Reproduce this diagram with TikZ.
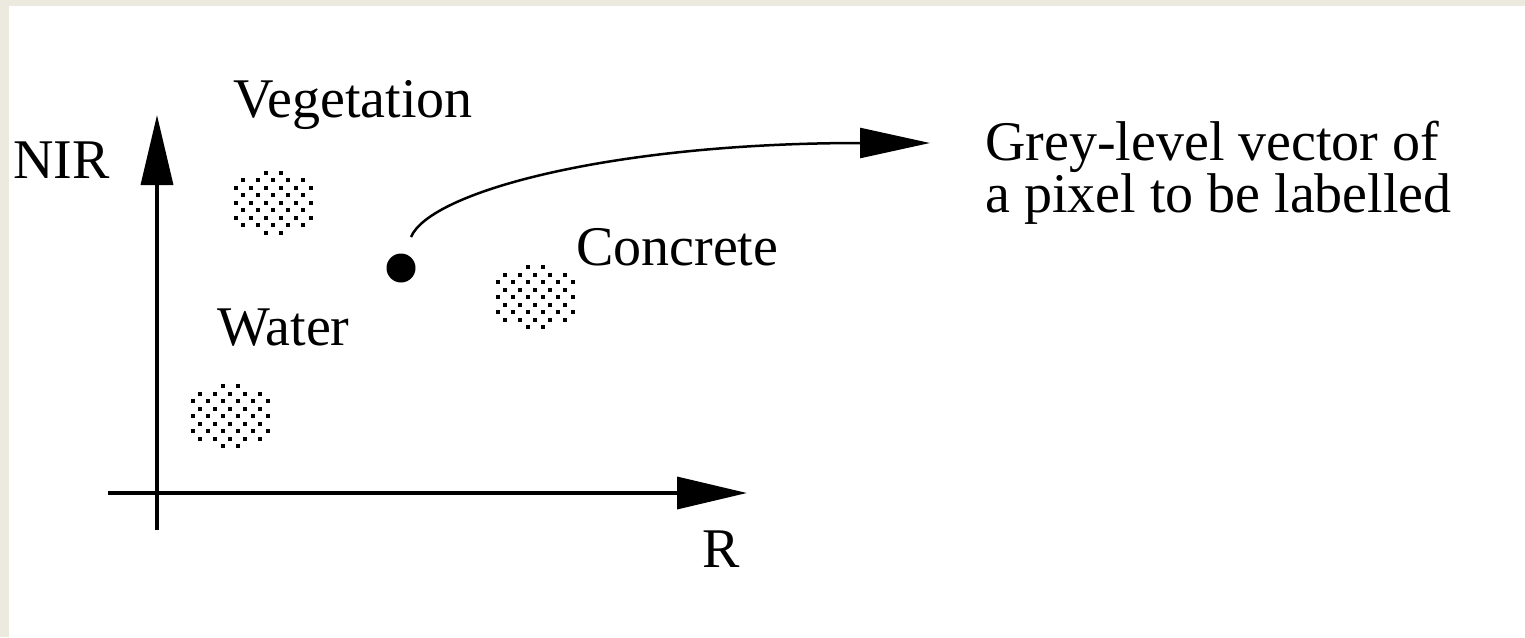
\documentclass[tikz,border=0pt]{standalone}
\usepackage{fontspec}
\setmainfont{Liberation Serif}
\usetikzlibrary{arrows.meta}

\definecolor{frame}{RGB}{236,233,223}

% hexagonal stipple cloud centred at (#1,#2)
\newcommand\stipplecloud[2]{%
  \foreach \k in {-4,...,4}{%
    \foreach \m in {-6,...,6}{%
      \pgfmathtruncatemacro\keep{(mod(\m+\k+20,2)==1)&&(((\m*7.5/42)^2+(\k*7.5/34)^2)<=1)}%
      \ifnum\keep=1
        \fill (#1+\m*7.5-2, #2+\k*7.5-2) rectangle ++(4,4);
      \fi
    }%
  }%
}

\begin{document}
\begin{tikzpicture}[x=1pt,y=-1pt,
  lbl/.style={anchor=base west, inner sep=0pt, font=\fontsize{56}{48}\selectfont},
  axis/.style={line width=3.5pt, -{Triangle[length=70pt,width=32pt]}},
  pointer/.style={line width=2.5pt, -{Triangle[length=70pt,width=30pt]}}]

  % page frame
  \fill[frame] (0,0) rectangle (1525,637);
  \fill[white] (9,6) rectangle (1525,637);
  \useasboundingbox (0,0) rectangle (1525,637);

  % axes
  \coordinate (ybot) at (157,530);
  \coordinate (ytop) at (157,115);
  \coordinate (xleft) at (108,493);
  \coordinate (xright) at (747,493);
  \draw[axis] (ybot) -- (ytop);
  \draw[axis] (xleft) -- (xright);

  \node[lbl] (nir) at (13,178) {NIR};
  \node[lbl] (r) at (702,567) {R};

  % class clusters
  \stipplecloud{273}{202.7}
  \stipplecloud{535}{297}
  \stipplecloud{230}{416}

  \node[lbl] (veg) at (233,117) {Vegetation};
  \node[lbl] (conc) at (576,265) {Concrete};
  \node[lbl] (water) at (217,345) {Water};

  % pixel to be labelled
  \node[circle, fill=black, inner sep=0pt, minimum size=29pt] (px) at (401,268) {};
  \coordinate (cstart) at (411,237);
  \coordinate (ctip) at (930,143);
  \draw[pointer] (cstart) .. controls (430,192) and (610,143) .. (ctip);

  % two-line caption; its base anchor sits on the last line
  \node[lbl, align=left] (gl) at (985,212) {Grey-level vector of\\a pixel to be labelled};
\end{tikzpicture}
\end{document}
